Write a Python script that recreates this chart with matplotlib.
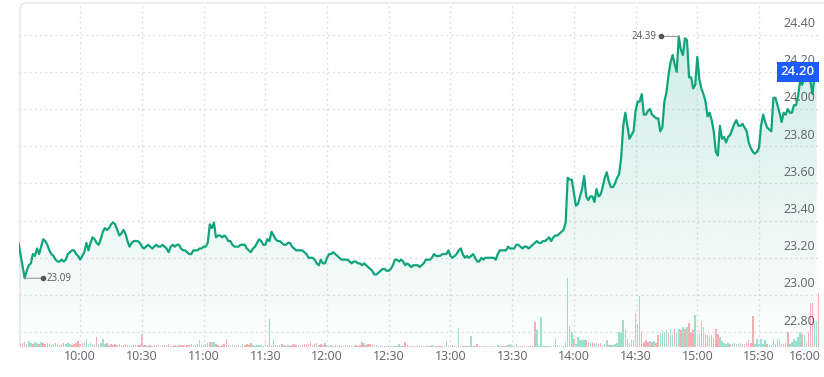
import matplotlib
matplotlib.use('Agg')
import matplotlib.pyplot as plt
import numpy as np
from matplotlib.transforms import offset_copy, blended_transform_factory, IdentityTransform
from matplotlib.path import Path
from matplotlib.patches import PathPatch

plt.rcParams['font.family'] = ['Open Sans', 'DejaVu Sans']

# ---------------- data (minutes after 09:30) ----------------
m_0930 = [0] + list(range(3, 30))
p_0930 = [23.28, 23.09, 23.13, 23.16, 23.17, 23.22, 23.21, 23.25, 23.22, 23.26, 23.30, 23.29, 23.27, 23.24,
          23.22, 23.21, 23.19, 23.18, 23.18, 23.19, 23.18, 23.19, 23.22, 23.23, 23.24, 23.24, 23.22, 23.21]
p_1000 = [23.19, 23.21, 23.23, 23.28, 23.24, 23.28, 23.31, 23.30, 23.28, 23.27, 23.30, 23.34, 23.36, 23.35, 23.36,
          23.38, 23.39, 23.38, 23.35, 23.32, 23.33, 23.35, 23.33, 23.29, 23.26, 23.28, 23.29, 23.29, 23.29, 23.28]
p_1030 = [23.26, 23.25, 23.26, 23.27, 23.26, 23.25, 23.26, 23.27, 23.26, 23.26, 23.27, 23.26, 23.25, 23.23, 23.26,
          23.27, 23.26, 23.27, 23.27, 23.25, 23.24, 23.24, 23.23, 23.22, 23.22, 23.24, 23.24, 23.24, 23.25, 23.25]
p_1100 = [23.26, 23.26, 23.28, 23.38, 23.36, 23.39, 23.31, 23.32, 23.32, 23.31, 23.32, 23.31, 23.29, 23.29, 23.27,
          23.26, 23.26, 23.26, 23.27, 23.27, 23.27, 23.25, 23.24, 23.23, 23.25, 23.26, 23.28, 23.30, 23.29, 23.27]
p_1130 = [23.27, 23.30, 23.29, 23.34, 23.32, 23.30, 23.29, 23.29, 23.28, 23.27, 23.27, 23.28, 23.28, 23.26, 23.25,
          23.24, 23.24, 23.24, 23.24, 23.23, 23.22, 23.20, 23.20, 23.20, 23.19, 23.17, 23.16, 23.19, 23.17, 23.17]
p_1200 = [23.20, 23.22, 23.22, 23.23, 23.22, 23.21, 23.20, 23.19, 23.19, 23.19, 23.19, 23.18, 23.17, 23.18, 23.18,
          23.17, 23.17, 23.16, 23.17, 23.16, 23.15, 23.14, 23.13, 23.11, 23.11, 23.12, 23.13, 23.14, 23.14, 23.13]
p_1230 = [23.13, 23.14, 23.16, 23.19, 23.19, 23.18, 23.19, 23.18, 23.16, 23.17, 23.16, 23.15, 23.16, 23.16, 23.16,
          23.15, 23.16, 23.17, 23.19, 23.19, 23.19, 23.20, 23.22, 23.21, 23.21, 23.21, 23.22, 23.22, 23.22, 23.24]
p_1300 = [23.21, 23.20, 23.21, 23.22, 23.24, 23.25, 23.22, 23.20, 23.21, 23.20, 23.21, 23.22, 23.20, 23.18, 23.18,
          23.20, 23.19, 23.20, 23.20, 23.20, 23.20, 23.20, 23.19, 23.22, 23.24, 23.24, 23.24, 23.24, 23.26, 23.25]
p_1330 = [23.25, 23.25, 23.27, 23.27, 23.26, 23.25, 23.26, 23.26, 23.25, 23.26, 23.27, 23.28, 23.29, 23.28, 23.28,
          23.29, 23.29, 23.30, 23.31, 23.29, 23.31, 23.32, 23.32, 23.33, 23.34, 23.35, 23.39, 23.63, 23.62, 23.62]
p_1400 = [23.55, 23.48, 23.49, 23.53, 23.57, 23.64, 23.53, 23.51, 23.53, 23.53, 23.50, 23.57, 23.53, 23.54, 23.58,
          23.63, 23.66, 23.61, 23.58, 23.58, 23.60, 23.63, 23.65, 23.74, 23.91, 23.98, 23.91, 23.84, 23.86, 23.88]
p_1430 = [23.99, 24.04, 24.04, 24.08, 23.97, 23.97, 23.99, 24.00, 23.97, 23.96, 23.95, 23.95, 23.88, 23.90, 24.04,
          24.09, 24.18, 24.25, 24.29, 24.24, 24.20, 24.39, 24.32, 24.29, 24.38, 24.37, 24.17, 24.17, 24.11, 24.13]
p_1500 = [24.28, 24.16, 24.11, 24.08, 24.04, 23.96, 23.98, 23.94, 23.88, 23.77, 23.75, 23.91, 23.84, 23.85, 23.82,
          23.85, 23.86, 23.89, 23.92, 23.94, 23.91, 23.91, 23.92, 23.90, 23.88, 23.82, 23.79, 23.77, 23.76, 23.77]
p_1530 = [23.79, 23.91, 23.97, 23.93, 23.90, 23.89, 23.88, 24.06, 24.06, 24.02, 23.98, 23.93, 23.98, 23.97, 24.00,
          23.98, 23.98, 24.02, 24.02, 24.07, 24.15, 24.13, 24.17, 24.20, 24.23, 24.15, 24.08, 24.18, 24.20]

# volume per minute (thousand shares) and bar direction (g = up, r = down)
v_0930 = [7, 3, 4, 5, 3, 6, 4, 3, 5, 4, 3, 5, 4, 3, 4, 3, 2, 3, 4, 3, 2, 3, 4, 3, 4, 3, 2, 3, 4, 6]
v_1000 = [3, 4, 5, 8, 3, 4, 3, 2, 10, 3, 4, 8, 3, 4, 2, 3, 2, 3, 2, 3, 2, 2, 3, 2, 2, 1, 2, 2, 2, 2]
v_1030 = [13, 2, 2, 1, 2, 1, 2, 1, 2, 1, 2, 2, 2, 3, 2, 1, 2, 1, 2, 2, 2, 1, 2, 2, 3, 2, 2, 3, 7, 2]
v_1100 = [2, 3, 4, 5, 5, 5, 3, 2, 1, 2, 3, 8, 2, 1, 2, 1, 1, 2, 1, 3, 2, 3, 2, 4, 2, 1, 2, 2, 2, 1]
v_1130 = [4, 2, 28, 2, 8, 2, 2, 2, 3, 2, 1, 2, 1, 2, 3, 2, 2, 1, 2, 3, 2, 3, 5, 2, 3, 4, 2, 3, 2, 4]
v_1200 = [2, 1, 2, 1, 2, 1, 2, 1, 1, 2, 1, 2, 1, 1, 2, 1, 2, 5, 4, 2, 3, 3, 3, 2, 2, 1, 1, 1, 1, 1]
v_1230 = [1, 1, 1, 1, 1, 3, 1, 1, 5, 2, 1, 1, 1, 1, 2, 1, 1, 1, 1, 1, 1, 2, 1, 1, 1, 1, 1, 1, 6, 1]
v_1300 = [2, 2, 1, 1, 19, 1, 1, 1, 1, 1, 11, 1, 1, 3, 1, 1, 1, 1, 1, 1, 1, 1, 1, 2, 1, 1, 1, 1, 2, 3]
v_1330 = [2, 1, 3, 1, 1, 1, 1, 1, 1, 1, 1, 25, 17, 1, 30, 1, 1, 1, 1, 1, 2, 9, 2, 1, 1, 1, 5, 69, 21, 15]
v_1400 = [8, 3, 10, 7, 7, 7, 7, 5, 4, 5, 4, 4, 3, 4, 2, 3, 7, 2, 2, 2, 3, 4, 15, 15, 27, 17, 8, 4, 7, 7]
v_1430 = [34, 23, 51, 16, 5, 7, 5, 6, 5, 6, 4, 12, 14, 17, 15, 17, 15, 18, 12, 18, 14, 18, 17, 20, 18, 20, 24, 15, 17, 32]
v_1500 = [13, 13, 26, 20, 13, 12, 10, 12, 9, 18, 13, 10, 6, 4, 3, 4, 3, 3, 4, 3, 3, 4, 3, 3, 5, 7, 4, 31, 3, 8]
v_1530 = [3, 8, 3, 7, 3, 2, 2, 8, 3, 8, 7, 3, 3, 4, 15, 3, 5, 8, 6, 10, 15, 13, 12, 5, 15, 44, 44, 26, 26, 54]

d_0930 = "rrrrgggrggrgrrrrrrrgrrrgggrrrr"
d_1000 = "rrgggggrrggggrgrrrrggrrrggrgrr"
d_1030 = "rrgrrrgrrrgrrrgrrgrrrrrrrgrggg"
d_1100 = "grgrggrrgrrrrrgrrrggrrrrgggggr"
d_1130 = "grrggrgrrgrgrrrrgrrrrrrgrrgrgr"
d_1200 = "rggrrrrrrgrrrgrrrrgrrrrrgggrgr"
d_1230 = "rgggrggrrrrrrrrrgggrgggrgrrggg"
d_1300 = "rrrggrrrrggrrrrgrrgrrrgggrgrrg"
d_1330 = "gggrrrrrgrrrggggggrgggggggggrg"
d_1400 = "rgggggrrgrrgrrggggrgggggggrggg"
d_1430 = "gggrrrrgrgrrggggrggrggrgrgrrrg"
d_1500 = "ggrgrrgrrrrgggggrgggrggrrrrrgg"
d_1530 = "ggggrgggrrrggrrggggggrggrrrggr"

x_ticks = [30, 60, 90, 120, 150, 180, 210, 240, 270, 300, 330, 360, 390]
x_labels = ["10:00", "10:30", "11:00", "11:30", "12:00", "12:30", "13:00", "13:30",
            "14:00", "14:30", "15:00", "15:30", "16:00"]
y_ticks = [22.80, 23.00, 23.20, 23.40, 23.60, 23.80, 24.00, 24.20, 24.40]

# ---------------- assemble ----------------
price_segments = [p_0930, p_1000, p_1030, p_1100, p_1130, p_1200, p_1230, p_1300,
                  p_1330, p_1400, p_1430, p_1500, p_1530]
minutes = list(m_0930)
for k, seg in enumerate(price_segments[1:], start=1):
    minutes += list(range(30 * k, 30 * k + len(seg)))
prices = [v for seg in price_segments for v in seg]
tt = np.array(minutes, dtype=float)
pp = np.array(prices)

vols = v_0930 + v_1000 + v_1030 + v_1100 + v_1130 + v_1200 + v_1230 + v_1300 + v_1330 + v_1400 + v_1430 + v_1500 + v_1530
dirs = d_0930 + d_1000 + d_1030 + d_1100 + d_1130 + d_1200 + d_1230 + d_1300 + d_1330 + d_1400 + d_1430 + d_1500 + d_1530
vol_t = np.arange(len(vols))

# ---------------- style ----------------
LINE = '#0fa47e'
GREEN_BAR = '#9de2cf'
RED_BAR = '#f7b0b5'
GRID = '#e2e2e2'
TXT = '#5f6368'
FRAME = '#e0e3eb'
BLUE = '#1a5cff'

W, H = 824, 377
fig = plt.figure(figsize=(W / 100, H / 100), dpi=100)
fig.patch.set_facecolor('white')

left_px, right_px = 18.5, 820.7
top_px, bot_px = 3, 347
vol_top_px = 267
YMIN, YMAX = 22.7204, 24.5699

axv = fig.add_axes([left_px / W, 1 - bot_px / H, (right_px - left_px) / W, (bot_px - vol_top_px) / H], zorder=1)
ax = fig.add_axes([left_px / W, 1 - bot_px / H, (right_px - left_px) / W, (bot_px - top_px) / H], zorder=2)
ax.patch.set_alpha(0)

# volume bars
bar_colors = [GREEN_BAR if c == 'g' else RED_BAR for c in dirs]
axv.bar(vol_t, vols, width=0.72, color=bar_colors, linewidth=0)
axv.set_xlim(0, 390)
axv.set_ylim(0, 80)
axv.axis('off')

# grid
for v in y_ticks:
    ax.axhline(v, color=GRID, lw=1.0, ls=(0, (1.5, 2.2)), zorder=0.5)
for t in x_ticks[:-1]:
    ax.axvline(t, color=GRID, lw=1.0, ls=(0, (1.5, 2.2)), zorder=0.5)

# gradient area under price line
verts = [(tt[0], YMIN)] + list(zip(tt, pp)) + [(tt[-1], YMIN)]
clip = PathPatch(Path(verts), facecolor='none', edgecolor='none')
ax.add_patch(clip)
ny = 300
vals = np.linspace(YMIN, YMAX, ny)
alpha = np.clip(0.01 + (vals - YMIN) / (24.40 - YMIN) * 0.185, 0, 0.22)
rgb = matplotlib.colors.to_rgb(LINE)
img = np.zeros((ny, 1, 4))
img[..., 0], img[..., 1], img[..., 2] = rgb
img[:, 0, 3] = alpha
im = ax.imshow(img, extent=[0, 390, YMIN, YMAX], origin='lower', aspect='auto',
               interpolation='bilinear', zorder=1)
im.set_clip_path(clip)

# price line
ax.plot(tt, pp, color=LINE, lw=1.6, solid_joinstyle='round', zorder=3)

ax.set_xlim(0, 390)
ax.set_ylim(YMIN, YMAX)
for s in ax.spines.values():
    s.set_visible(False)
ax.set_yticks([])
ax.set_xticks(x_ticks)
ax.set_xticklabels(x_labels)
ax.tick_params(axis='x', length=0, pad=2.5, labelsize=9, labelcolor=TXT)
ax.get_xticklabels()[-1].set_ha('right')

# y labels (inside, right)
ytrans = offset_copy(blended_transform_factory(ax.transAxes, ax.transData), fig=fig, x=0, y=11, units='dots')
xr = (815 - left_px) / (right_px - left_px)
for v in y_ticks:
    ax.text(xr, v, f"{v:.2f}", transform=ytrans, ha='right', va='center', fontsize=9, color=TXT, zorder=4)

# current price tag
last = pp[-1]
ax.text(xr, last, f"{last:.2f}", transform=blended_transform_factory(ax.transAxes, ax.transData),
        ha='right', va='center', fontsize=9.5, color='white', fontweight='semibold', zorder=6,
        bbox=dict(boxstyle='square,pad=0.28', fc=BLUE, ec='none'))

# high / low annotations
i_max = int(np.argmax(pp))
i_min = int(np.argmin(pp))
for idx, sign in ((i_max, -1), (i_min, 1)):
    t0, v0 = tt[idx], pp[idx]
    ax.annotate('', xy=(t0, v0), xytext=(sign * 18, 0), textcoords='offset pixels',
                arrowprops=dict(arrowstyle='-', color='#9a9a9a', lw=0.8, shrinkA=0, shrinkB=0), zorder=4)
    ax.plot([t0], [v0], 'o', ms=3, color='#555555', zorder=5,
            transform=offset_copy(ax.transData, fig=fig, x=sign * 18, y=0, units='dots'))
    ax.annotate(f"{v0:.2f}", xy=(t0, v0), xytext=(sign * 22, 0), textcoords='offset pixels',
                ha='right' if sign < 0 else 'left', va='center', fontsize=7, color='#555555', zorder=5)

# rounded frame (left + top edges)
r = 6
yb, yt = H - bot_px, H - top_px
fx0 = 20
frame = Path([(fx0, yb), (fx0, yt - r), (fx0, yt), (fx0 + r, yt), (W + 5, yt)],
             [Path.MOVETO, Path.LINETO, Path.CURVE3, Path.CURVE3, Path.LINETO])
fig.add_artist(PathPatch(frame, transform=IdentityTransform(), fill=False, edgecolor=FRAME, lw=0.9))

fig.savefig('out.png', dpi=100, facecolor='white')
